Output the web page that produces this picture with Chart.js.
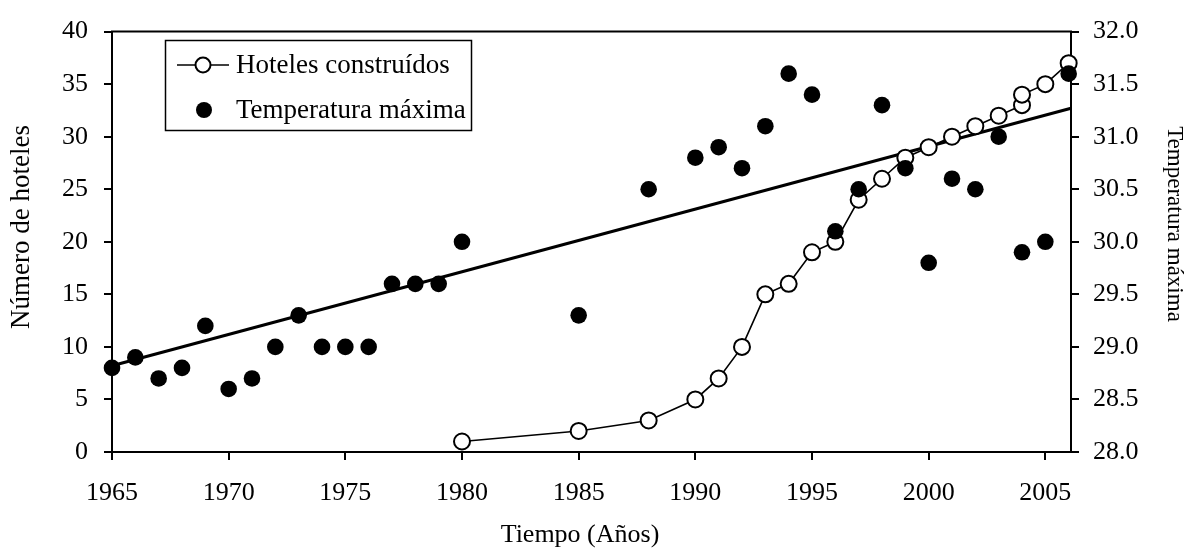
<!DOCTYPE html>
<html><head><meta charset="utf-8">
<script src="https://cdn.jsdelivr.net/npm/chart.js@4.4.0/dist/chart.umd.min.js"></script>
<style>html,body{margin:0;padding:0;background:#fff;}canvas{display:block}</style>
</head><body>
<canvas id="c" width="1194" height="548"></canvas>
<script>
const hotelYears  = [1980,1985,1988,1990,1991,1992,1993,1994,1995,1996,1997,1998,1999,2000,2001,2002,2003,2004,2004,2005,2006];
const hotelCounts = [1,2,3,5,7,10,15,16,19,20,24,26,28,29,30,31,32,33,34,35,37];
const tempYears  = [1965,1966,1967,1968,1969,1970,1971,1972,1973,1974,1975,1976,1977,1978,1979,1980,1985,1988,1990,1991,1992,1993,1994,1995,1996,1997,1998,1999,2000,2001,2002,2003,2004,2005,2006];
const tempValues = [28.8,28.9,28.7,28.8,29.2,28.6,28.7,29.0,29.3,29.0,29.0,29.0,29.6,29.6,29.6,30.0,29.3,30.5,30.8,30.9,30.7,31.1,31.6,31.4,30.1,30.5,31.3,30.7,29.8,30.6,30.5,31.0,29.9,30.0,31.6];
const trendYears = [1965, 2006.1];
const trendTemps = [28.82, 31.27];
const xTicks = [1965,1970,1975,1980,1985,1990,1995,2000,2005];
const leftTicks = [0,5,10,15,20,25,30,35,40];
const rightTicks = [28.0,28.5,29.0,29.5,30.0,30.5,31.0,31.5,32.0];
const labelHotels = 'Hoteles construídos';
const labelTemp = 'Temperatura máxima';
const titleX = 'Tiempo (Años)';
const titleLeft = 'Número de hoteles';
const titleRight = 'Temperatura máxima';

const FONT = '"Liberation Serif", "Times New Roman", serif';
const tickFont = {family: FONT, size: 26};

const decor = {
  id: 'decor',
  beforeDatasetsDraw(chart) {
    const ctx = chart.ctx, ca = chart.chartArea;
    ctx.save();
    ctx.strokeStyle = '#000'; ctx.lineWidth = 2;
    ctx.beginPath(); ctx.moveTo(ca.left - 1, ca.top); ctx.lineTo(ca.right + 1, ca.top); ctx.stroke();
    ctx.restore();
  },
  afterDraw(chart) {
    const ctx = chart.ctx;
    ctx.save();
    ctx.fillStyle = '#000';
    // axis titles
    ctx.font = '26px ' + FONT;
    ctx.textAlign = 'center'; ctx.textBaseline = 'middle';
    ctx.fillText(titleX, 580, 535);
    ctx.save(); ctx.translate(22, 227); ctx.rotate(-Math.PI/2);
    ctx.font = '27px ' + FONT; ctx.fillText(titleLeft, 0, 0); ctx.restore();
    ctx.save(); ctx.translate(1174, 224); ctx.rotate(Math.PI/2);
    ctx.font = '23px ' + FONT; ctx.fillText(titleRight, 0, 0); ctx.restore();
    // legend
    ctx.fillStyle = '#fff'; ctx.fillRect(165, 40, 307, 91);
    ctx.strokeStyle = '#000'; ctx.lineWidth = 1.5;
    ctx.strokeRect(165.5, 40.5, 306, 90);
    ctx.lineWidth = 1.6;
    ctx.beginPath(); ctx.moveTo(177, 65); ctx.lineTo(229, 65); ctx.stroke();
    ctx.beginPath(); ctx.arc(203, 65, 7.5, 0, Math.PI*2);
    ctx.fillStyle = '#fff'; ctx.fill(); ctx.lineWidth = 2; ctx.stroke();
    ctx.fillStyle = '#000';
    ctx.beginPath(); ctx.arc(204, 110, 8, 0, Math.PI*2); ctx.fill();
    ctx.font = '27px ' + FONT; ctx.textAlign = 'left'; ctx.textBaseline = 'middle';
    ctx.fillText(labelHotels, 236, 66);
    ctx.fillText(labelTemp, 236, 111);
    ctx.restore();
  }
};

new Chart(document.getElementById('c'), {
  type: 'line',
  data: {
    datasets: [
      {
        label: labelTemp,
        data: tempYears.map((x, i) => ({x, y: tempValues[i]})),
        yAxisID: 'y2', showLine: false, order: 0, clip: false,
        pointRadius: 8.3, pointBackgroundColor: '#000', pointBorderWidth: 0, pointBorderColor: '#000'
      },
      {
        label: labelHotels,
        data: hotelYears.map((x, i) => ({x, y: hotelCounts[i]})),
        yAxisID: 'y', order: 1, clip: false,
        borderColor: '#000', borderWidth: 1.6, tension: 0,
        pointRadius: 8, pointBackgroundColor: '#fff', pointBorderColor: '#000', pointBorderWidth: 2
      },
      {
        label: 'trend',
        data: trendYears.map((x, i) => ({x, y: trendTemps[i]})),
        yAxisID: 'y2', order: 2, clip: false,
        borderColor: '#000', borderWidth: 3, pointRadius: 0
      }
    ]
  },
  options: {
    responsive: false, animation: false,
    layout: {padding: {top: 22, left: 0, right: 0, bottom: 0}},
    plugins: {legend: {display: false}, tooltip: {enabled: false}},
    scales: {
      x: {
        type: 'linear', position: 'bottom', min: 1965, max: 2006.1,
        afterBuildTicks: s => { s.ticks = xTicks.map(v => ({value: v})); },
        afterFit: s => { s.height = 96; },
        ticks: {font: tickFont, color: '#000', padding: 18, maxRotation: 0, callback: v => String(v)},
        grid: {drawOnChartArea: false, drawTicks: true, tickLength: 8, color: '#000', lineWidth: 2},
        border: {display: true, color: '#000', width: 2}
      },
      y: {
        type: 'linear', position: 'left', min: 0, max: 40,
        afterBuildTicks: s => { s.ticks = leftTicks.map(v => ({value: v})); },
        afterFit: s => { s.width = 112; },
        ticks: {font: tickFont, color: '#000', padding: 16, callback: v => String(v)},
        grid: {drawOnChartArea: false, drawTicks: true, tickLength: 8, color: '#000', lineWidth: 2},
        border: {display: true, color: '#000', width: 2}
      },
      y2: {
        type: 'linear', position: 'right', min: 28, max: 32,
        afterBuildTicks: s => { s.ticks = rightTicks.map(v => ({value: v})); },
        afterFit: s => { s.width = 123; },
        ticks: {font: tickFont, color: '#000', padding: 14, callback: v => Number(v).toFixed(1)},
        grid: {drawOnChartArea: false, drawTicks: true, tickLength: 8, color: '#000', lineWidth: 2},
        border: {display: true, color: '#000', width: 2}
      }
    }
  },
  plugins: [decor]
});
</script>
</body></html>
